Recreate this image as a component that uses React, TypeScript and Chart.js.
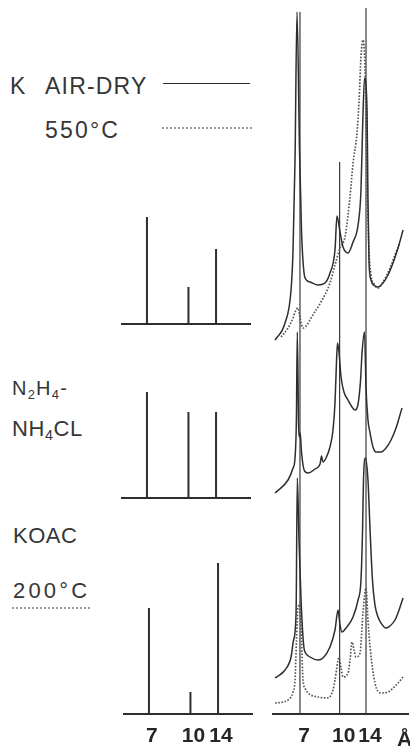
import React, { useEffect, useRef } from "react";
import { Chart, registerables } from "chart.js";

Chart.register(...registerables);

// ---------- data ----------
const WAVELENGTH = 1.5406; // Cu K-alpha, Å
const D_SPACINGS = [7, 10, 14];
const TICK_LABELS = ["7", "10", "14"];

// calculated stick patterns (relative intensity at 7, 10, 14 Å)
const STICKS_K_AIR_DRY = [107, 37, 75];
const STICKS_N2H4_NH4CL = [106, 86, 86];
const STICKS_KOAC_200 = [106, 22, 151];

// observed traces: [2θ (deg), intensity]
const TRACE_K_AIR_DRY: [number, number][] = [
  [15.02, 14], [14.07, 31], [13.49, 64], [13.3, 104], [13.11, 194], [12.92, 342],
  [12.68, 204], [12.49, 124], [12.34, 92], [12.15, 76], [11.67, 72], [10.91, 69],
  [10.24, 71], [9.76, 81], [9.28, 104], [9.09, 138], [8.8, 122], [8.51, 107],
  [8.03, 101], [7.55, 112], [7.07, 129], [6.79, 164], [6.64, 224], [6.45, 276],
  [6.21, 244], [6.12, 154], [6.02, 92], [5.83, 74], [5.45, 68], [5.16, 67],
  [4.68, 71], [4.2, 79], [3.72, 91], [3.24, 106], [2.76, 124],
];
const TRACE_K_550: [number, number][] = [
  [14.45, 17], [13.78, 26], [13.3, 36], [13.11, 42], [12.82, 46], [12.63, 36],
  [12.34, 26], [11.96, 29], [11.58, 36], [10.62, 52], [9.76, 71], [9.28, 89],
  [8.8, 106], [8.32, 117], [8.03, 139], [7.84, 157], [7.55, 191], [7.17, 221],
  [6.97, 254], [6.79, 297], [6.6, 314], [6.4, 284], [6.21, 174], [6.02, 104],
  [5.83, 79], [5.54, 70], [5.16, 66], [4.68, 72], [4.01, 86], [3.43, 102], [3.05, 111],
];
const TRACE_N2H4_NH4CL: [number, number][] = [
  [15.02, 21], [13.78, 34], [13.3, 46], [13.11, 56], [12.98, 94], [12.89, 182],
  [12.77, 89], [12.7, 77], [12.61, 81], [12.49, 62], [12.2, 43], [11.86, 41],
  [11.19, 45], [10.71, 50], [10.57, 58], [10.43, 52], [10.14, 56], [9.76, 67],
  [9.47, 84], [9.28, 111], [9.13, 154], [9.04, 171], [8.9, 162], [8.7, 137],
  [8.42, 122], [8.03, 114], [7.65, 107], [7.36, 104], [7.07, 110], [6.83, 134],
  [6.69, 161], [6.45, 182], [6.31, 127], [6.12, 94], [5.92, 81], [5.64, 67],
  [5.35, 62], [4.87, 62], [4.39, 66], [3.91, 74], [3.43, 86], [3.14, 96], [2.86, 106],
];
const TRACE_KOAC: [number, number][] = [
  [15.02, 36], [14.07, 44], [13.49, 57], [13.25, 74], [13.01, 101], [12.89, 236],
  [12.73, 174], [12.53, 114], [12.39, 84], [12.25, 66], [12.15, 62], [11.67, 57],
  [10.91, 54], [10.43, 56], [9.76, 67], [9.28, 84], [8.99, 104], [8.8, 89],
  [8.61, 82], [8.22, 86], [7.55, 97], [7.07, 114], [6.79, 134], [6.64, 184],
  [6.55, 234], [6.36, 256], [6.12, 234], [5.92, 184], [5.69, 134], [5.45, 109],
  [5.16, 97], [4.87, 91], [4.39, 86], [4.01, 88], [3.53, 94], [3.14, 104], [2.76, 116],
];
const TRACE_KOAC_200: [number, number][] = [
  [15.02, 11], [14.26, 12], [13.78, 14], [13.3, 22], [13.11, 34], [12.97, 74],
  [12.82, 107], [12.63, 109], [12.49, 74], [12.34, 34], [12.15, 26], [11.86, 21],
  [10.91, 17], [9.95, 16], [9.47, 24], [9.28, 34], [8.9, 56], [8.7, 46], [8.51, 37],
  [8.03, 41], [7.84, 54], [7.65, 72], [7.46, 64], [7.27, 57], [6.88, 61], [6.6, 101],
  [6.31, 126], [6.12, 94], [5.92, 67], [5.45, 31], [4.87, 21], [4.2, 22], [3.24, 31], [2.76, 37],
];
// heights of the 7, 10, 14 Å marker lines on the trace panel
const REF_LINE_TOPS = [702, 552, 706];

// ---------- layout / style ----------
const OFFSET_K = 360;
const OFFSET_N = 200;
const OFFSET_KOAC = 0;
const LEFT_X = { min: 3.2, max: 14.92 };
const RIGHT_X = { min: 2.285, max: 15.22 };
const INK = "#2e2e2e";
const DOT_INK = "#555555";
const FONT = '"Liberation Sans", Arial, sans-serif';

const twoTheta = (d: number) => (2 * Math.asin(WAVELENGTH / (2 * d)) * 180) / Math.PI;

const tickAxis = (range: { min: number; max: number }, showTicks: boolean, axisHeight: number, labelOffset: number) => ({
  type: "linear",
  reverse: true,
  min: range.min,
  max: range.max,
  grid: { display: false, drawTicks: false },
  border: { display: true, color: INK, width: 2 },
  afterBuildTicks: (scale: any) => {
    scale.ticks = D_SPACINGS.map((d) => ({ value: twoTheta(d) }));
  },
  afterFit: (scale: any) => {
    scale.height = axisHeight;
  },
  ticks: {
    display: showTicks,
    autoSkip: false,
    maxRotation: 0,
    minRotation: 0,
    padding: 10,
    labelOffset,
    color: "#262626",
    font: { family: FONT, size: 21, weight: "bold" },
    callback: (_v: any, i: number) => TICK_LABELS[i] ?? "",
  },
});

const baseOptions = (padding: any) => ({
  animation: false,
  responsive: false,
  events: [],
  layout: { padding },
  plugins: { legend: { display: false }, tooltip: { enabled: false } },
});

function stickConfig(heights: number[], showTicks: boolean): any {
  const data = D_SPACINGS.flatMap((d, i) => [
    { x: twoTheta(d), y: 0 },
    { x: twoTheta(d), y: heights[i] },
    { x: twoTheta(d), y: null },
  ]);
  return {
    type: "line",
    data: {
      datasets: [
        { data, borderColor: INK, borderWidth: 2, pointRadius: 0, spanGaps: false, borderCapStyle: "butt" },
      ],
    },
    options: {
      ...baseOptions({ left: 10, right: 12, top: 0, bottom: showTicks ? 0 : 6 }),
      scales: {
        x: tickAxis(LEFT_X, showTicks, showTicks ? 37 : 0, 3),
        y: { display: false, min: 0, max: 160 },
      },
    },
  };
}

function traceConfig(): any {
  const shift = (t: [number, number][], off: number) => t.map(([x, y]) => ({ x, y: y + off }));
  const solid = { borderColor: INK, borderWidth: 1.5, pointRadius: 0, cubicInterpolationMode: "monotone" };
  const dotted = { borderColor: DOT_INK, borderWidth: 1.7, borderDash: [1.6, 1.6], pointRadius: 0, cubicInterpolationMode: "monotone" };
  const refData = D_SPACINGS.flatMap((d, i) => [
    { x: twoTheta(d), y: 0 },
    { x: twoTheta(d), y: REF_LINE_TOPS[i] },
    { x: twoTheta(d), y: null },
  ]);
  return {
    type: "line",
    data: {
      datasets: [
        { data: shift(TRACE_K_AIR_DRY, OFFSET_K), ...solid },
        { data: shift(TRACE_K_550, OFFSET_K), ...dotted },
        { data: shift(TRACE_N2H4_NH4CL, OFFSET_N), ...solid },
        { data: shift(TRACE_KOAC, OFFSET_KOAC), ...solid },
        { data: shift(TRACE_KOAC_200, OFFSET_KOAC), ...dotted },
        { data: refData, borderColor: "#3a3a3a", borderWidth: 1.2, pointRadius: 0, spanGaps: false, borderCapStyle: "butt" },
      ],
    },
    options: {
      ...baseOptions({ left: 10, right: 2, top: 0, bottom: 0 }),
      scales: {
        x: tickAxis(RIGHT_X, true, 37, 4),
        y: { display: false, min: 0, max: 714 },
      },
    },
  };
}

function ChartBox(props: { left: number; top: number; width: number; height: number; make: () => any }) {
  const ref = useRef<HTMLCanvasElement>(null);
  useEffect(() => {
    const chart = new Chart(ref.current as HTMLCanvasElement, props.make());
    return () => chart.destroy();
  }, []);
  const { left, top, width, height } = props;
  return (
    <div style={{ position: "absolute", left, top, width, height }}>
      <canvas ref={ref} width={width} height={height} style={{ display: "block", width, height }} />
    </div>
  );
}

const Sub = (p: { children: any }) => (
  <span style={{ fontSize: "65%", position: "relative", top: "0.3em" }}>{p.children}</span>
);

function Label(p: { left: number; top: number; size: number; spacing?: number; children: any }) {
  return (
    <div
      style={{
        position: "absolute",
        left: p.left,
        top: p.top,
        fontSize: p.size,
        lineHeight: 1,
        letterSpacing: p.spacing ?? 0,
        whiteSpace: "nowrap",
        color: "#363636",
      }}
    >
      {p.children}
    </div>
  );
}

export default function App() {
  return (
    <div
      style={{
        position: "fixed",
        left: 0,
        top: 0,
        width: 410,
        height: 751,
        overflow: "hidden",
        background: "#fff",
        fontFamily: FONT,
      }}
    >
      <Label left={10} top={75} size={23}>K</Label>
      <Label left={45} top={75} size={23} spacing={1.2}>AIR-DRY</Label>
      <div style={{ position: "absolute", left: 163, top: 83, width: 87, borderTop: `1.5px solid ${INK}` }} />
      <Label left={45} top={118.5} size={23} spacing={2.2}>550°C</Label>
      <div style={{ position: "absolute", left: 162, top: 127, width: 90, borderTop: "2px dotted #9a9a9a" }} />

      <Label left={12} top={378} size={20} spacing={1.2}>
        N<Sub>2</Sub>H<Sub>4</Sub>-
      </Label>
      <Label left={12} top={417.5} size={22} spacing={0.6}>
        NH<Sub>4</Sub>CL
      </Label>

      <Label left={13} top={524.5} size={22} spacing={0.5}>KOAC</Label>
      <Label left={13} top={579.5} size={22} spacing={3.2}>200°C</Label>
      <div style={{ position: "absolute", left: 12, top: 607, width: 78, borderTop: "2px dotted #9a9a9a" }} />

      <ChartBox left={112} top={164} width={150} height={166} make={() => stickConfig(STICKS_K_AIR_DRY, false)} />
      <ChartBox left={112} top={338} width={150} height={166} make={() => stickConfig(STICKS_N2H4_NH4CL, false)} />
      <ChartBox left={114} top={554} width={150} height={197} make={() => stickConfig(STICKS_KOAC_200, true)} />
      <ChartBox left={263} top={0} width={147} height={751} make={traceConfig} />

      <div
        style={{
          position: "absolute",
          left: 397,
          top: 728,
          fontSize: 21,
          lineHeight: 1,
          fontWeight: "bold",
          color: "#262626",
        }}
      >
        Å
      </div>
    </div>
  );
}
